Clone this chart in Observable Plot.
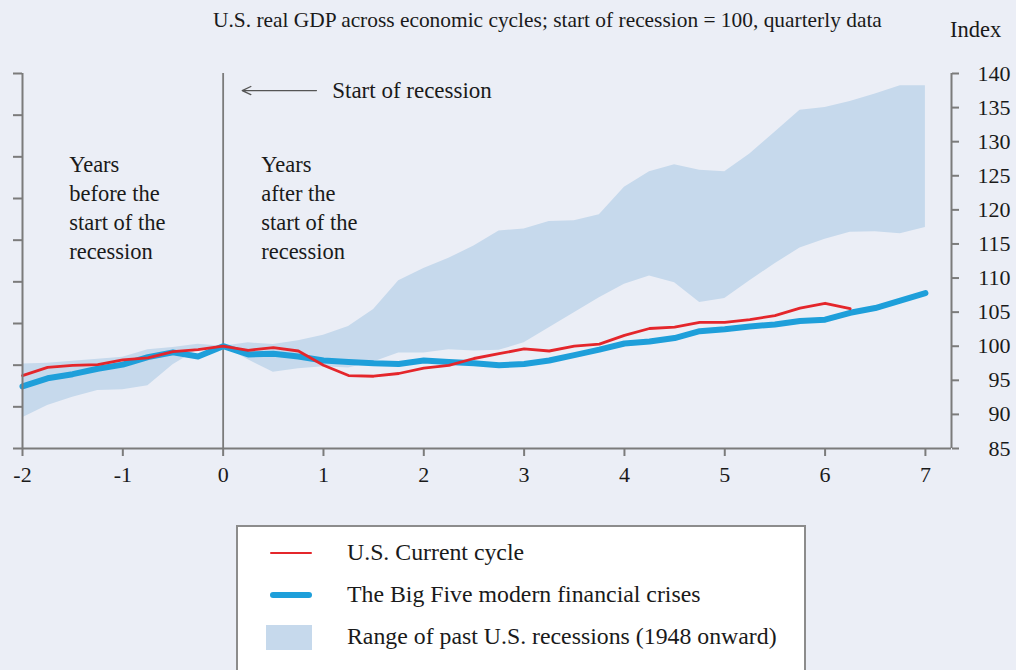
<!DOCTYPE html>
<html>
<head>
<meta charset="utf-8">
<script src="https://cdn.jsdelivr.net/npm/d3@7"></script>
<script src="https://cdn.jsdelivr.net/npm/@observablehq/plot@0.6"></script>
<style>
  html, body { margin: 0; padding: 0; background: #ebeef6; }
  #wrap { position: relative; width: 1016px; height: 670px; overflow: hidden; font-family: "Liberation Serif", "DejaVu Serif", serif; color: #1a1a1a; background: #ebeef6; }
  #title { position: absolute; left: 213px; top: 7px; font-size: 21.4px; line-height: 26px; white-space: nowrap; }
  #index { position: absolute; left: 950px; top: 17px; font-size: 22.5px; line-height: 26px; }
  #chart { position: absolute; left: 0; top: 0; }
  #legend { position: absolute; left: 236px; top: 525px; width: 566px; height: 170px; background: #fff; border: 2px solid #8c8c8c; }
  .item { position: absolute; left: 109px; font-size: 23.8px; line-height: 28px; white-space: nowrap; }
  .sw { position: absolute; }
</style>
</head>
<body>
<div id="wrap">
  <div id="title">U.S. real GDP across economic cycles; start of recession = 100, quarterly data</div>
  <div id="index">Index</div>
  <div id="chart"></div>
  <div id="legend"></div>
</div>
<script>
// Quarters relative to the start of the recession (years)
const quarters = [-2, -1.75, -1.5, -1.25, -1, -0.75, -0.5, -0.25, 0, 0.25, 0.5, 0.75,
  1, 1.25, 1.5, 1.75, 2, 2.25, 2.5, 2.75, 3, 3.25, 3.5, 3.75, 4, 4.25, 4.5, 4.75,
  5, 5.25, 5.5, 5.75, 6, 6.25, 6.5, 6.75, 7];

// U.S. current cycle (ends at 6.25)
const currentCycle = [95.7, 96.9, 97.2, 97.3, 98.0, 98.3, 99.2, 99.5, 100, 99.4, 99.8, 99.3,
  97.2, 95.7, 95.6, 96.0, 96.8, 97.2, 98.2, 98.9, 99.6, 99.3, 100.0, 100.3,
  101.6, 102.6, 102.8, 103.5, 103.5, 103.9, 104.5, 105.6, 106.3, 105.5];

// The Big Five modern financial crises
const bigFive = [94.1, 95.3, 95.9, 96.7, 97.3, 98.4, 99.1, 98.5, 100, 98.8, 98.9, 98.5,
  97.9, 97.7, 97.5, 97.4, 97.9, 97.7, 97.5, 97.2, 97.4, 97.9, 98.7, 99.5,
  100.4, 100.7, 101.2, 102.2, 102.5, 102.9, 103.2, 103.7, 103.9, 104.9, 105.6, 106.7, 107.8];

// Range of past U.S. recessions (1948 onward)
const rangeHigh = [97.4, 97.5, 97.8, 98.1, 98.4, 99.5, 99.8, 100.3, 100, 100.5, 100.25, 100.8,
  101.6, 102.9, 105.4, 109.6, 111.4, 112.9, 114.7, 116.9, 117.2, 118.3, 118.4, 119.3,
  123.3, 125.6, 126.6, 125.8, 125.6, 128.2, 131.4, 134.6, 135.0, 135.9, 137.0, 138.2, 138.2];
const rangeLow = [89.5, 91.3, 92.5, 93.5, 93.6, 94.2, 97.3, 99.5, 100, 98.0, 96.2, 96.7,
  97.0, 96.8, 97.7, 99.0, 99.0, 99.5, 99.3, 99.4, 100.5, 102.7, 104.9, 107.1,
  109.1, 110.3, 109.3, 106.4, 107.0, 109.6, 112.1, 114.4, 115.7, 116.7, 116.8, 116.5, 117.4];

// Axis ticks
const xTicks = [-2, -1, 0, 1, 2, 3, 4, 5, 6, 7];
const yTicks = [85, 90, 95, 100, 105, 110, 115, 120, 125, 130, 135, 140];
const leftTickCount = 10;

const xDomain = [-2, 7.26];
const yDomain = [85, 140];
const leftTicks = d3.range(leftTickCount).map(i => yDomain[0] + i * (yDomain[1] - yDomain[0]) / (leftTickCount - 1));

const band = quarters.map((q, i) => ({q, lo: rangeLow[i], hi: rangeHigh[i]}));
const cur = currentCycle.map((v, i) => ({q: quarters[i], v}));
const big = bigFive.map((v, i) => ({q: quarters[i], v}));

const RED = "#e4262b", BLUE = "#1e9fda", BAND = "#c6d9ec", AX = "#7b7b7b";

const annotations = [
  {x: -1.535, y: 128.6, text: "Years\nbefore the\nstart of the\nrecession"},
  {x: 0.379, y: 128.6, text: "Years\nafter the\nstart of the\nrecession"}
];

const chart = Plot.plot({
  width: 1016,
  height: 500,
  marginTop: 73,
  marginBottom: 52,
  marginLeft: 22,
  marginRight: 65,
  style: {background: "transparent", fontFamily: "'Liberation Serif', 'DejaVu Serif', serif", fontSize: "22px", color: "#1a1a1a", overflow: "visible"},
  x: {domain: xDomain},
  y: {domain: yDomain},
  marks: [
    Plot.areaY(band, {x: "q", y1: "lo", y2: "hi", fill: BAND}),
    Plot.ruleX([0], {stroke: AX, strokeWidth: 1.8}),
    Plot.line(big, {x: "q", y: "v", stroke: BLUE, strokeWidth: 6, strokeLinejoin: "round", strokeLinecap: "round"}),
    Plot.line(cur, {x: "q", y: "v", stroke: RED, strokeWidth: 2.8, strokeLinejoin: "round"}),
    Plot.ruleY([yDomain[0]], {stroke: AX, strokeWidth: 2}),
    Plot.ruleX([xDomain[0]], {stroke: AX, strokeWidth: 2}),
    Plot.ruleX([xDomain[1]], {stroke: AX, strokeWidth: 2}),
    Plot.axisX({ticks: xTicks, tickSize: 8, tickPadding: 10, tickFormat: d => String(d), label: null, stroke: AX, strokeWidth: 2, fontSize: 22}),
    Plot.axisY({anchor: "right", ticks: yTicks, tickSize: 7, tickPadding: 52, textAnchor: "end", label: null, stroke: AX, strokeWidth: 2, fontSize: 22}),
    Plot.axisY({anchor: "left", ticks: leftTicks, tickSize: 9, tickFormat: () => "", label: null, stroke: AX, strokeWidth: 2}),
    Plot.arrow([{x1: 0.93, x2: 0.19, y: 137.5}], {x1: "x1", x2: "x2", y1: "y", y2: "y", stroke: "#555", strokeWidth: 1.3, headLength: 11, headAngle: 50}),
    Plot.text([{x: 1.087, y: 137.5, t: "Start of recession"}], {x: "x", y: "y", text: "t", textAnchor: "start", fontSize: 23, fill: "#1a1a1a"}),
    Plot.text(annotations, {x: "x", y: "y", text: "text", textAnchor: "start", lineAnchor: "top", lineHeight: 1.29, fontSize: 22.5, fill: "#1a1a1a"})
  ]
});
document.getElementById("chart").appendChild(chart);

// Legend
const legendItems = [
  {label: "U.S. Current cycle", kind: "line", color: RED, w: 2.8, y: 26},
  {label: "The Big Five modern financial crises", kind: "line", color: BLUE, w: 6, y: 68},
  {label: "Range of past U.S. recessions (1948 onward)", kind: "rect", color: BAND, y: 110}
];
const lg = document.getElementById("legend");
for (const it of legendItems) {
  const sw = document.createElement("div");
  sw.className = "sw";
  if (it.kind === "line") {
    sw.style.left = "32px"; sw.style.width = "42px";
    sw.style.top = (it.y - it.w / 2) + "px"; sw.style.height = it.w + "px";
    sw.style.background = it.color; sw.style.borderRadius = (it.w / 2) + "px";
  } else {
    sw.style.left = "28px"; sw.style.width = "46px";
    sw.style.top = (it.y - 12) + "px"; sw.style.height = "25px";
    sw.style.background = it.color;
  }
  lg.appendChild(sw);
  const t = document.createElement("div");
  t.className = "item";
  t.style.top = (it.y - 15) + "px";
  t.textContent = it.label;
  lg.appendChild(t);
}
</script>
</body>
</html>
